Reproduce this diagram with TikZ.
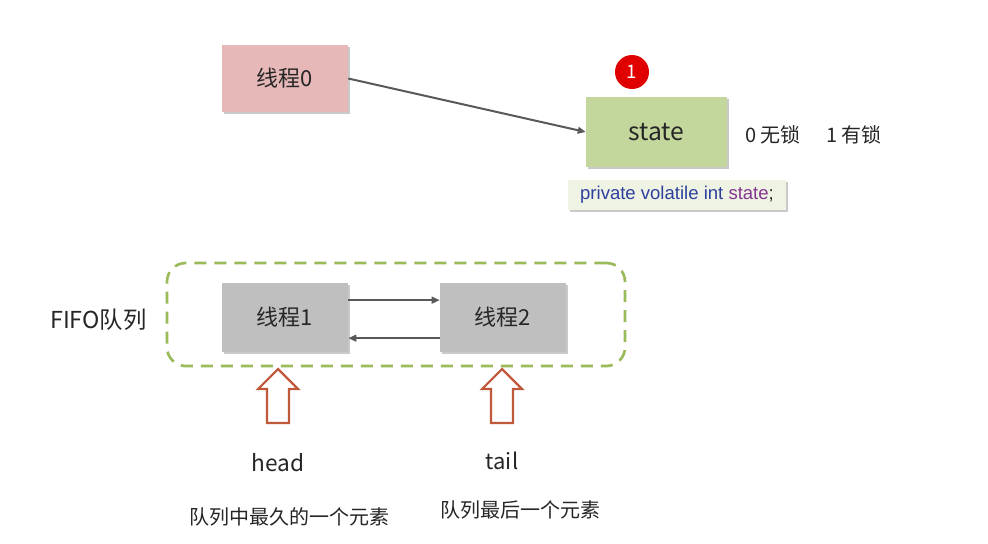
\documentclass[tikz,border=0pt]{standalone}
\usepackage{fontspec}
\setmainfont{Noto Sans CJK SC}
\newfontfamily\codefont{Liberation Sans}
\usetikzlibrary{arrows.meta,shadows}
\definecolor{pinkbox}{HTML}{E6B8B7}
\definecolor{greenbox}{HTML}{C3D69B}
\definecolor{graybox}{HTML}{BFBFBF}
\definecolor{codebg}{HTML}{EEF3E4}
\definecolor{dashgreen}{HTML}{9BBB59}
\definecolor{linegray}{HTML}{595959}
\definecolor{txt}{HTML}{262626}
\definecolor{hollowred}{HTML}{C0583C}
\definecolor{codeblue}{HTML}{2E3F9E}
\definecolor{codepurple}{HTML}{83358F}
\definecolor{badge}{HTML}{E00000}
\tikzset{
  box/.style={inner sep=0pt, text=txt, font=\fontsize{16.5}{20}\selectfont,
    drop shadow={shadow xshift=1.5pt, shadow yshift=-1.5pt, opacity=0.35, fill=black!60}},
  conn/.style={draw=linegray, line width=1.5pt, -{Triangle[length=6pt,width=5pt]}},
  hollow/.style={draw=hollowred, line width=1.6pt, fill=white, line join=miter},
  lbl/.style={text=txt, inner sep=0pt}
}
\begin{document}
\begin{tikzpicture}[x=0.75pt, y=-0.75pt]
\useasboundingbox[fill=white] (0,0) rectangle (988,543);

% top part
\node[box, fill=pinkbox, minimum width=94.5pt, minimum height=50.25pt] (t0) at (285,78.5) {线程0};
\node[box, fill=greenbox, minimum width=105.75pt, minimum height=52.5pt, font=\fontsize{18.5}{22}\selectfont] (state) at (656.5,132) {state};
\node[circle, fill=badge, minimum size=25.5pt, inner sep=0pt, text=white, font=\fontsize{14}{16}\selectfont] (badge) at (632,72) {1};
\draw[conn] (t0.east) -- (state.west);
\node[lbl, font=\fontsize{15}{18}\selectfont, anchor=west] (lock0) at (745,135) {0 无锁};
\node[lbl, font=\fontsize{15}{18}\selectfont, anchor=west] (lock1) at (826,135) {1 有锁};
\node[box, fill=codebg, minimum width=163.5pt, minimum height=22.5pt, font=\codefont\fontsize{13.9}{16}\selectfont] (code) at (677,195)
  {\textcolor{codeblue}{private volatile int }\textcolor{codepurple}{state}\textcolor{txt}{;}};

% queue
\node[draw=dashgreen, line width=2pt, dash pattern=on 9pt off 6pt, rounded corners=14pt,
  minimum width=343.5pt, minimum height=77.25pt] (queue) at (396,314.5) {};
\node[box, fill=graybox, minimum width=94.5pt, minimum height=51.75pt] (t1) at (285,317.5) {线程1};
\node[box, fill=graybox, minimum width=94.5pt, minimum height=51.75pt] (t2) at (503,317.5) {线程2};
\draw[conn] ([yshift=13pt]t1.east) -- ([yshift=13pt]t2.west);
\draw[conn] ([yshift=-15.5pt]t2.west) -- ([yshift=-15.5pt]t1.east);
\node[lbl, font=\fontsize{17.5}{20}\selectfont, anchor=west] (fifo) at (50,320) {FIFO队列};

% hollow arrows
\draw[hollow] (278,369) -- (298,389) -- (289,389) -- (289,423) -- (267,423) -- (267,389) -- (258,389) -- cycle;
\draw[hollow] (502,369) -- (522,389) -- (513,389) -- (513,423) -- (491,423) -- (491,389) -- (482,389) -- cycle;

\node[lbl, font=\fontsize{17}{20}\selectfont] (head) at (278,463) {head};
\node[lbl, font=\fontsize{16.5}{20}\selectfont] (tail) at (502,461) {tail};
\node[lbl, font=\fontsize{15}{18}\selectfont] (headd) at (289,517) {队列中最久的一个元素};
\node[lbl, font=\fontsize{15}{18}\selectfont] (taild) at (520,510) {队列最后一个元素};
\end{tikzpicture}
\end{document}
